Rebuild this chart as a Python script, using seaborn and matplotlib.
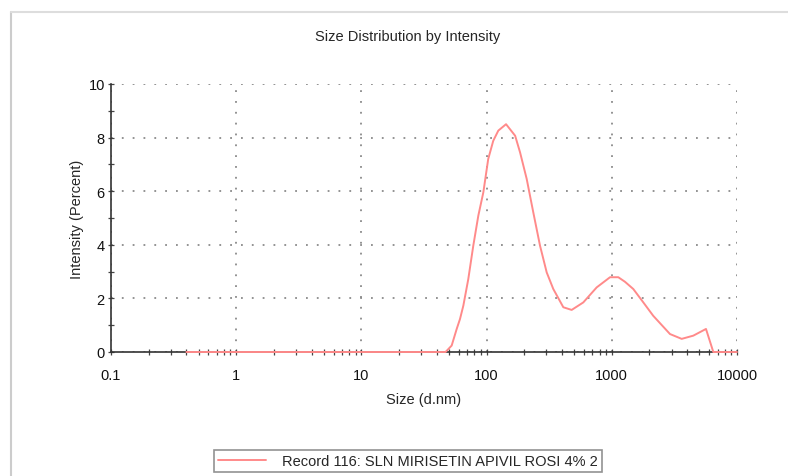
import numpy as np
import pandas as pd
import matplotlib
matplotlib.use("Agg")
import matplotlib.pyplot as plt
from matplotlib.lines import Line2D
from matplotlib.ticker import FixedLocator, LogLocator, NullFormatter, MultipleLocator
import seaborn as sns

# Intensity distribution (size in d.nm, intensity in percent)
size_nm = [0.4, 1.0, 10.0, 40.0, 47.0, 52.6, 57.7, 61.3, 65.2, 71.4, 78.3, 85.9,
           94.2, 103, 113, 124, 143, 169, 185, 209, 236, 267, 302, 341, 410,
           478, 592, 757, 968, 1127, 1274, 1485, 1786, 2143, 2916, 3616, 4477,
           5653, 6469, 10000]
intensity = [0.0, 0.0, 0.0, 0.0, 0.0, 0.24, 0.86, 1.23, 1.73, 2.72, 3.97, 5.09,
             5.96, 7.2, 7.88, 8.26, 8.5, 8.07, 7.45, 6.46, 5.21, 3.97, 2.97, 2.35, 1.67,
             1.57, 1.85, 2.41, 2.79, 2.79, 2.62, 2.35, 1.85, 1.35, 0.67, 0.49, 0.61,
             0.86, 0.0, 0.0]
record_label = "Record 116: SLN MIRISETIN APIVIL ROSI 4% 2"

x_ticks = [0.1, 1, 10, 100, 1000, 10000]
x_tick_labels = ["0.1", "1", "10", "100", "1000", "10000"]
y_ticks = [0, 2, 4, 6, 8, 10]

df = pd.DataFrame({"Size": size_nm, "Intensity": intensity, "Record": record_label})

sns.set_style("white")
plt.rcParams["font.family"] = ["Liberation Sans", "DejaVu Sans"]

FS = 10.5
LINE_COLOR = "#ff8a8a"

fig = plt.figure(figsize=(7.88, 4.77), dpi=100)
ax = fig.add_axes([111 / 788, 1 - 353 / 477, 626 / 788, 268 / 477])

sns.lineplot(data=df, x="Size", y="Intensity", hue="Record",
             palette=[LINE_COLOR], linewidth=1.4, ax=ax, zorder=5, clip_on=False)

ax.set_xscale("log")
ax.set_xlim(0.1, 10000)
ax.set_ylim(0, 10)

ax.xaxis.set_major_locator(FixedLocator(x_ticks))
ax.set_xticklabels(x_tick_labels)
ax.xaxis.set_minor_locator(LogLocator(base=10, subs=np.arange(2, 10)))
ax.xaxis.set_minor_formatter(NullFormatter())
ax.yaxis.set_major_locator(FixedLocator(y_ticks))
ax.yaxis.set_minor_locator(MultipleLocator(1))

ax.tick_params(axis="both", which="both", direction="inout", color="#444444",
               width=0.9, labelsize=FS, labelcolor="#111111",
               bottom=True, left=True, top=False, right=False)
ax.tick_params(axis="x", which="major", length=5, pad=9)
ax.tick_params(axis="y", which="major", length=5, pad=2)
ax.tick_params(axis="both", which="minor", length=5)

ax.grid(True, which="major", color="#8a8a8a", linestyle=(0, (1, 5)), linewidth=1.3)
ax.set_axisbelow(True)

for side in ("top", "right"):
    ax.spines[side].set_visible(False)
for side in ("left", "bottom"):
    ax.spines[side].set_color("#333333")
    ax.spines[side].set_linewidth(1.2)

ax.set_xlabel("Size (d.nm)", fontsize=FS, labelpad=7)
ax.set_ylabel("Intensity (Percent)", fontsize=FS, labelpad=3)
fig.text(408 / 788, 1 - 37 / 477, "Size Distribution by Intensity",
         ha="center", va="center", fontsize=FS)

ax.get_legend().remove()
leg = fig.legend(handles=[Line2D([], [], color=LINE_COLOR, linewidth=1.4)],
                 labels=[record_label], loc="center",
                 bbox_to_anchor=(408 / 788, 1 - 462 / 477), fontsize=FS,
                 frameon=True, fancybox=False, handlelength=3.3,
                 handletextpad=1.1, borderpad=0.25, borderaxespad=0)
leg.get_frame().set_edgecolor("#777777")
leg.get_frame().set_linewidth(1.2)

# Outer panel border
fig.add_artist(Line2D([11 / 788, 11 / 788], [0, 1 - 13 / 477],
                      transform=fig.transFigure, color="#cccccc", linewidth=1.5))
fig.add_artist(Line2D([11 / 788, 1], [1 - 13 / 477, 1 - 13 / 477],
                      transform=fig.transFigure, color="#dddddd", linewidth=1.5))

fig.savefig("out.png", dpi=100)
